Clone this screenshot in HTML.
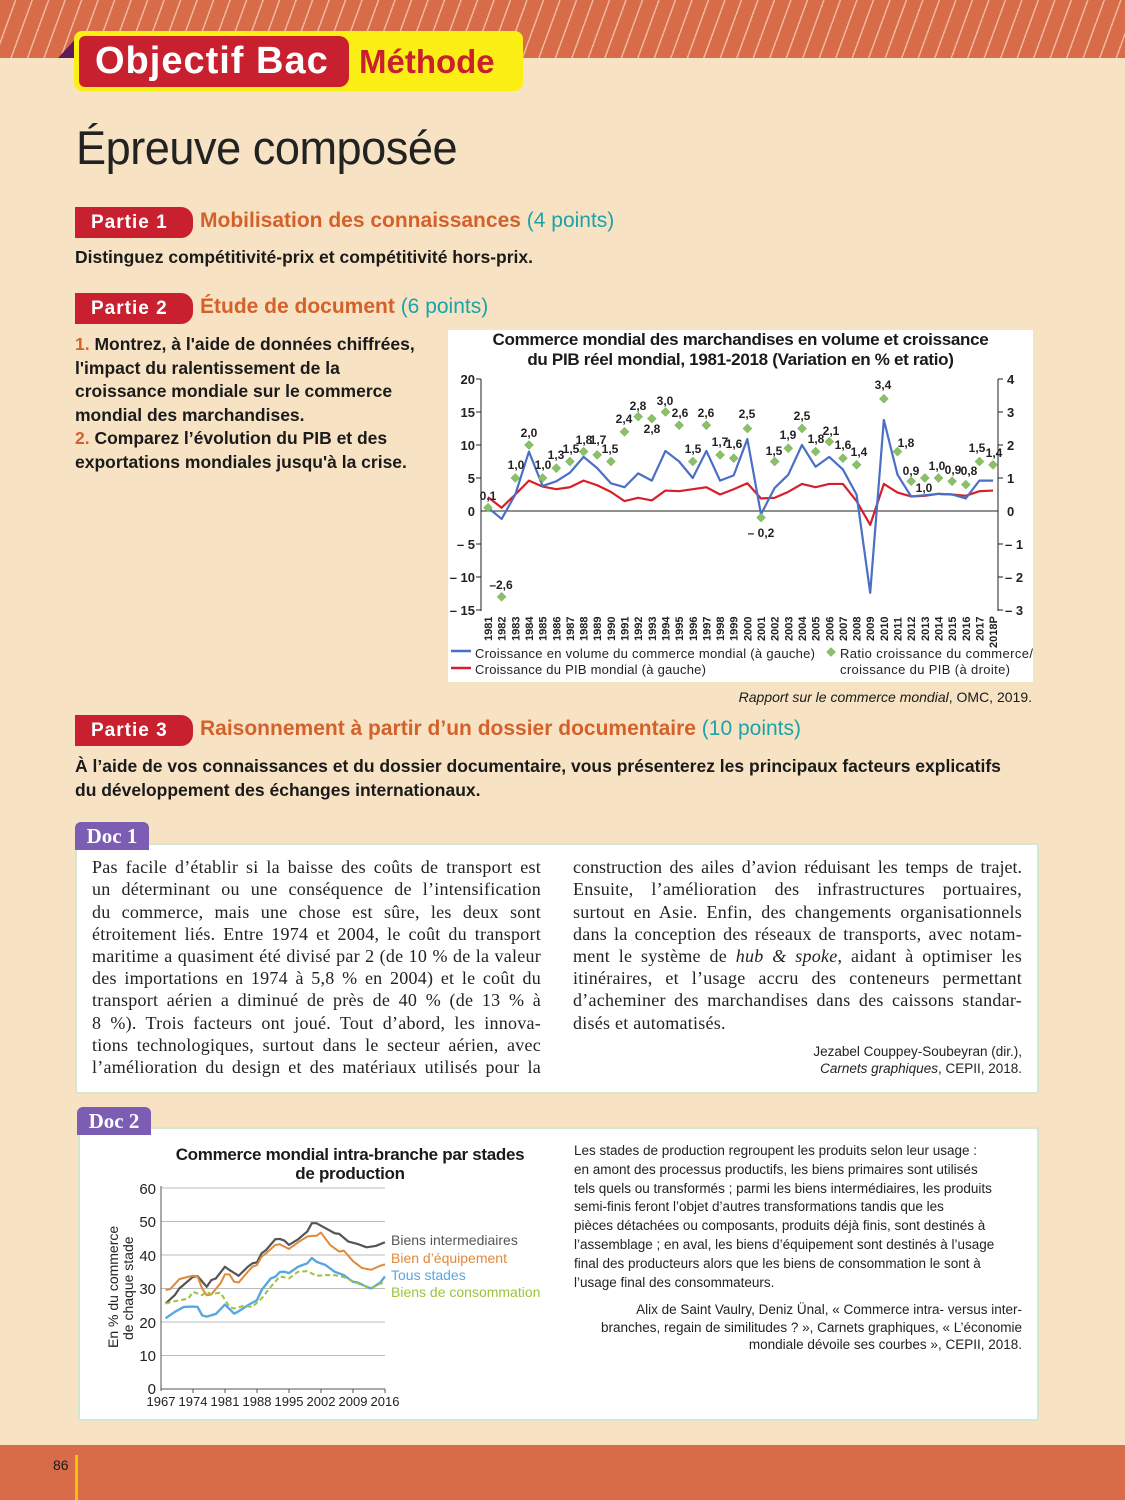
<!DOCTYPE html>
<html><head><meta charset="utf-8"><style>
*{margin:0;padding:0;box-sizing:border-box}
body{width:1125px;height:1500px;position:relative;overflow:hidden;background:#f7e3c4;font-family:"Liberation Sans",sans-serif;color:#1a1a1a}
.a{position:absolute;white-space:nowrap}
.top{left:0;top:0;width:1125px;height:58px;background:repeating-linear-gradient(110deg,#d96c48 0 14px,#f0b69c 14px 15.5px)}
.bot{left:0;top:1445px;width:1125px;height:55px;background:#d96c48}
.tag{height:31px;background:#c8202f;color:#fff;font-weight:bold;font-size:19px;line-height:31px;padding-left:16px;border-radius:0 12px 12px 0;letter-spacing:1px}
.h{font-weight:bold;font-size:21px;color:#d4602a}
.h span{color:#1ba3a8;font-weight:normal}
.b{font-weight:bold;font-size:17.5px}
.doc{background:#7b5db3;color:#fff;font-family:"Liberation Serif",serif;font-weight:bold;font-size:21px;border-radius:6px 6px 0 0;text-align:center;line-height:28px;height:28px}
.box{background:#fff;border:2px solid #d5e7cf;border-radius:3px}
.sl{position:absolute;font-family:"Liberation Serif",serif;font-size:18px;letter-spacing:0.25px;width:449px;text-align:justify;text-align-last:justify;white-space:nowrap;line-height:22px;color:#222}
.sm{font-size:13.5px;color:#222}
</style></head><body>
<div class="a top"></div>
<div class="a" style="left:58px;top:36px;width:0;height:0;border-left:20px solid transparent;border-bottom:22px solid #5e1a5a"></div>
<div class="a" style="left:74px;top:31px;width:449px;height:60px;background:#fcef16;border-radius:8px"></div>
<div class="a" style="left:79px;top:36px;width:270px;height:51px;background:#c8202f;border-radius:6px 10px 10px 6px;color:#fff;font-weight:bold;font-size:38px;line-height:51px;padding-left:16px;letter-spacing:1px">Objectif Bac</div>
<div class="a" style="left:359px;top:36px;height:51px;line-height:51px;color:#c8202f;font-weight:bold;font-size:33px">Méthode</div>
<div class="a" style="left:76px;top:120px;font-size:47px;color:#222;letter-spacing:-0.5px;transform:scaleX(0.96);transform-origin:left">Épreuve composée</div>

<div class="a tag" style="left:75px;top:207px;width:118px">Partie 1</div>
<div class="a h" style="left:200px;top:209px">Mobilisation des connaissances <span>(4 points)</span></div>
<div class="a b" style="left:75px;top:247px">Distinguez compétitivité-prix et compétitivité hors-prix.</div>

<div class="a tag" style="left:75px;top:293px;width:118px">Partie 2</div>
<div class="a h" style="left:200px;top:295px">Étude de document <span>(6 points)</span></div>
<div class="a b" style="left:75px;top:333px;line-height:23.5px"><span style="color:#d4602a">1.</span> Montrez, à l'aide de données chiffrées,<br>l'impact du ralentissement de la<br>croissance mondiale sur le commerce<br>mondial des marchandises.<br><span style="color:#d4602a">2.</span> Comparez l’évolution du PIB et des<br>exportations mondiales jusqu'à la crise.</div>

<div class="a" style="left:448px;top:330px;width:585px;height:352px;background:#fff"></div>
<div class="a" style="left:448px;top:330px;width:585px;text-align:center;font-weight:bold;font-size:17px;line-height:20px;letter-spacing:-0.3px">Commerce mondial des marchandises en volume et croissance<br>du PIB réel mondial, 1981-2018 (Variation en % et ratio)</div>
<div class="a" style="right:93px;top:689px;font-size:14px"><i>Rapport sur le commerce mondial</i>, OMC, 2019.</div>

<div class="a tag" style="left:75px;top:715px;width:118px">Partie 3</div>
<div class="a h" style="left:200px;top:717px">Raisonnement à partir d’un dossier documentaire <span>(10 points)</span></div>
<div class="a b" style="left:75px;top:755px;line-height:23.5px">À l’aide de vos connaissances et du dossier documentaire, vous présenterez les principaux facteurs explicatifs<br>du développement des échanges internationaux.</div>

<div class="a box" style="left:75px;top:843px;width:964px;height:251px"></div>
<div class="a doc" style="left:75px;top:822px;width:74px">Doc 1</div>
<div class="sl" style="left:92px;top:856px">Pas facile d’établir si la baisse des coûts de transport est</div>
<div class="sl" style="left:92px;top:878px">un déterminant ou une conséquence de l’intensification</div>
<div class="sl" style="left:92px;top:901px">du commerce, mais une chose est sûre, les deux sont</div>
<div class="sl" style="left:92px;top:923px">étroitement liés. Entre 1974 et 2004, le coût du transport</div>
<div class="sl" style="left:92px;top:945px">maritime a quasiment été divisé par 2 (de 10 % de la valeur</div>
<div class="sl" style="left:92px;top:967px">des importations en 1974 à 5,8 % en 2004) et le coût du</div>
<div class="sl" style="left:92px;top:989px">transport aérien a diminué de près de 40 % (de 13 % à</div>
<div class="sl" style="left:92px;top:1012px">8 %). Trois facteurs ont joué. Tout d’abord, les innova-</div>
<div class="sl" style="left:92px;top:1034px">tions technologiques, surtout dans le secteur aérien, avec</div>
<div class="sl" style="left:92px;top:1056px">l’amélioration du design et des matériaux utilisés pour la</div>
<div class="sl" style="left:573px;top:856px;letter-spacing:0">construction des ailes d’avion réduisant les temps de trajet.</div>
<div class="sl" style="left:573px;top:878px">Ensuite, l’amélioration des infrastructures portuaires,</div>
<div class="sl" style="left:573px;top:901px">surtout en Asie. Enfin, des changements organisationnels</div>
<div class="sl" style="left:573px;top:923px">dans la conception des réseaux de transports, avec notam-</div>
<div class="sl" style="left:573px;top:945px">ment le système de <i>hub &amp; spoke</i>, aidant à optimiser les</div>
<div class="sl" style="left:573px;top:967px">itinéraires, et l’usage accru des conteneurs permettant</div>
<div class="sl" style="left:573px;top:989px">d’acheminer des marchandises dans des caissons standar-</div>
<div class="sl" style="left:573px;top:1012px;text-align-last:left">disés et automatisés.</div>
<div class="a sm" style="right:103px;top:1043px;text-align:right;line-height:17px">Jezabel Couppey-Soubeyran (dir.),<br><i>Carnets graphiques</i>, CEPII, 2018.</div>

<div class="a box" style="left:78px;top:1127px;width:961px;height:294px"></div>
<div class="a doc" style="left:77px;top:1107px;width:74px">Doc 2</div>
<div class="a sm" style="left:574px;top:1142px;line-height:18.8px">Les stades de production regroupent les produits selon leur usage :<br>en amont des processus productifs, les biens primaires sont utilisés<br>tels quels ou transformés ; parmi les biens intermédiaires, les produits<br>semi-finis feront l’objet d’autres transformations tandis que les<br>pièces détachées ou composants, produits déjà finis, sont destinés à<br>l’assemblage ; en aval, les biens d’équipement sont destinés à l’usage<br>final des producteurs alors que les biens de consommation le sont à<br>l’usage final des consommateurs.</div>
<div class="a sm" style="right:103px;top:1301px;text-align:right;line-height:17.5px">Alix de Saint Vaulry, Deniz Ünal, « Commerce intra- versus inter-<br>branches, regain de similitudes ? », Carnets graphiques, « L’économie<br>mondiale dévoile ses courbes », CEPII, 2018.</div>
<div class="a" style="left:80px;top:1145px;width:480px;text-align:center;font-weight:bold;font-size:17px;line-height:19px;letter-spacing:-0.3px;padding-left:60px">Commerce mondial intra-branche par stades<br>de production</div>

<div class="a bot"></div>
<div class="a" style="left:53px;top:1457px;font-size:14px">86</div>
<div class="a" style="left:75px;top:1455px;width:3px;height:45px;background:#f5c400"></div>

<svg class="a" style="left:0;top:0" width="1125" height="1500" font-family="Liberation Sans, sans-serif">
<defs><path id="d" d="M0,-4.5L4.5,0L0,4.5L-4.5,0Z" fill="#8cc068" stroke="#6fa850" stroke-width="0.5"/></defs>
<g stroke="#222" stroke-width="1">
<line x1="481" y1="379" x2="481" y2="611"/><line x1="998" y1="379" x2="998" y2="611"/>
<line x1="481" y1="511" x2="998" y2="511"/>
<path d="M476,379h5M476,412h5M476,445h5M476,478h5M476,544h5M476,577h5M476,610h5M998,379h5M998,412h5M998,445h5M998,478h5M998,544h5M998,577h5M998,610h5"/>
</g>
<g font-size="13" font-weight="bold" text-anchor="end" fill="#222">
<text x="475" y="384">20</text><text x="475" y="417">15</text><text x="475" y="450">10</text><text x="475" y="483">5</text><text x="475" y="516">0</text><text x="475" y="549">– 5</text><text x="475" y="582">– 10</text><text x="475" y="615">– 15</text>
</g>
<g font-size="13" font-weight="bold" fill="#222">
<text x="1007" y="384">4</text><text x="1007" y="417">3</text><text x="1007" y="450">2</text><text x="1007" y="483">1</text><text x="1007" y="516">0</text><text x="1005" y="549">– 1</text><text x="1005" y="582">– 2</text><text x="1005" y="615">– 3</text>
</g>
<g transform="translate(488,511) scale(13.65,-6.6)" fill="none" stroke-linejoin="round">
<polyline vector-effect="non-scaling-stroke" stroke="#d5202a" stroke-width="2.2" points="0,2.1 1,0.5 2,2.5 3,4.6 4,3.7 5,3.3 6,3.6 7,4.6 8,3.9 9,2.9 10,1.5 11,2 12,1.6 13,3.1 14,3 15,3.3 16,3.6 17,2.5 18,3.3 19,4.2 20,1.9 21,2 22,2.9 23,4.1 24,3.6 25,4.1 26,4.1 27,1.5 28,-2.1 29,4.1 30,2.8 31,2.2 32,2.3 33,2.6 34,2.5 35,2.3 36,3 37,3.1"/>
<polyline vector-effect="non-scaling-stroke" stroke="#4a6fc4" stroke-width="2.2" points="0,0.5 1,-1.2 2,2.5 3,9 4,3.8 5,4.5 6,5.8 7,8.2 8,6.5 9,4.2 10,3.6 11,5.7 12,4.6 13,9.1 14,7.5 15,5 16,9.1 17,4.6 18,5.4 19,10.9 20,-0.5 21,3.5 22,5.5 23,10 24,6.7 25,8.2 26,6.3 27,2.5 28,-12.4 29,13.8 30,5.5 31,2.2 32,2.4 33,2.6 34,2.5 35,1.9 36,4.6 37,4.6"/>
</g>
<g>
<use href="#d" x="488" y="507.7"/><use href="#d" x="501.6" y="596.8"/><use href="#d" x="515.3" y="478"/><use href="#d" x="529" y="445"/><use href="#d" x="542.6" y="478"/><use href="#d" x="556.3" y="468.1"/><use href="#d" x="569.9" y="461.5"/><use href="#d" x="583.6" y="451.6"/><use href="#d" x="597.2" y="454.9"/><use href="#d" x="610.9" y="461.5"/><use href="#d" x="624.5" y="431.8"/><use href="#d" x="638.2" y="416.6"/><use href="#d" x="651.8" y="418.6"/><use href="#d" x="665.5" y="412"/><use href="#d" x="679.1" y="425.2"/><use href="#d" x="692.8" y="461.5"/><use href="#d" x="706.4" y="425.2"/><use href="#d" x="720.1" y="454.9"/><use href="#d" x="733.7" y="458.2"/><use href="#d" x="747.4" y="428.5"/><use href="#d" x="761" y="517.6"/><use href="#d" x="774.7" y="461.5"/><use href="#d" x="788.3" y="448.3"/><use href="#d" x="802" y="428.5"/><use href="#d" x="815.6" y="451.6"/><use href="#d" x="829.3" y="441.7"/><use href="#d" x="842.9" y="458.2"/><use href="#d" x="856.6" y="464.8"/><use href="#d" x="883.9" y="398.8"/><use href="#d" x="897.5" y="451.6"/><use href="#d" x="911.2" y="481.3"/><use href="#d" x="924.8" y="478"/><use href="#d" x="938.5" y="478"/><use href="#d" x="952.1" y="481.3"/><use href="#d" x="965.8" y="484.6"/><use href="#d" x="979.4" y="461.5"/><use href="#d" x="993" y="464.8"/>
</g>
<g font-size="12" font-weight="bold" fill="#222" text-anchor="middle">
<text x="488" y="500">0,1</text><text x="501" y="589">–2,6</text><text x="516" y="469">1,0</text><text x="529" y="437">2,0</text><text x="543" y="469">1,0</text><text x="556" y="459">1,3</text><text x="571" y="453">1,5</text><text x="584" y="444">1,8</text><text x="598" y="444">1,7</text><text x="610" y="453">1,5</text><text x="624" y="423">2,4</text><text x="638" y="410">2,8</text><text x="652" y="433">2,8</text><text x="665" y="405">3,0</text><text x="680" y="417">2,6</text><text x="693" y="453">1,5</text><text x="706" y="417">2,6</text><text x="720" y="446">1,7</text><text x="734" y="448">1,6</text><text x="747" y="418">2,5</text><text x="761" y="537">– 0,2</text><text x="774" y="455">1,5</text><text x="788" y="439">1,9</text><text x="802" y="420">2,5</text><text x="816" y="443">1,8</text><text x="831" y="435">2,1</text><text x="843" y="449">1,6</text><text x="859" y="456">1,4</text><text x="883" y="389">3,4</text><text x="906" y="447">1,8</text><text x="911" y="475">0,9</text><text x="924" y="492">1,0</text><text x="937" y="470">1,0</text><text x="953" y="474">0,9</text><text x="969" y="475">0,8</text><text x="977" y="452">1,5</text><text x="994" y="457">1,4</text>
</g>
<g font-size="11" font-weight="bold" fill="#222">
<text transform="translate(492,641) rotate(-90)">1981</text><text transform="translate(505.6,641) rotate(-90)">1982</text><text transform="translate(519.3,641) rotate(-90)">1983</text><text transform="translate(533,641) rotate(-90)">1984</text><text transform="translate(546.6,641) rotate(-90)">1985</text><text transform="translate(560.3,641) rotate(-90)">1986</text><text transform="translate(573.9,641) rotate(-90)">1987</text><text transform="translate(587.6,641) rotate(-90)">1988</text><text transform="translate(601.2,641) rotate(-90)">1989</text><text transform="translate(614.9,641) rotate(-90)">1990</text><text transform="translate(628.5,641) rotate(-90)">1991</text><text transform="translate(642.2,641) rotate(-90)">1992</text><text transform="translate(655.8,641) rotate(-90)">1993</text><text transform="translate(669.5,641) rotate(-90)">1994</text><text transform="translate(683.1,641) rotate(-90)">1995</text><text transform="translate(696.8,641) rotate(-90)">1996</text><text transform="translate(710.4,641) rotate(-90)">1997</text><text transform="translate(724.1,641) rotate(-90)">1998</text><text transform="translate(737.7,641) rotate(-90)">1999</text><text transform="translate(751.4,641) rotate(-90)">2000</text><text transform="translate(765,641) rotate(-90)">2001</text><text transform="translate(778.7,641) rotate(-90)">2002</text><text transform="translate(792.3,641) rotate(-90)">2003</text><text transform="translate(806,641) rotate(-90)">2004</text><text transform="translate(819.6,641) rotate(-90)">2005</text><text transform="translate(833.3,641) rotate(-90)">2006</text><text transform="translate(846.9,641) rotate(-90)">2007</text><text transform="translate(860.6,641) rotate(-90)">2008</text><text transform="translate(874.2,641) rotate(-90)">2009</text><text transform="translate(887.9,641) rotate(-90)">2010</text><text transform="translate(901.5,641) rotate(-90)">2011</text><text transform="translate(915.2,641) rotate(-90)">2012</text><text transform="translate(928.8,641) rotate(-90)">2013</text><text transform="translate(942.5,641) rotate(-90)">2014</text><text transform="translate(956.1,641) rotate(-90)">2015</text><text transform="translate(969.8,641) rotate(-90)">2016</text><text transform="translate(983.4,641) rotate(-90)">2017</text><text transform="translate(997,648) rotate(-90)">2018P</text>
</g>
<line x1="451" y1="651" x2="471" y2="651" stroke="#4a6fc4" stroke-width="2.5"/>
<line x1="451" y1="668" x2="471" y2="668" stroke="#d5202a" stroke-width="2.5"/>
<use href="#d" x="831" y="652"/>
<g font-size="13" fill="#222">
<text x="475" y="658" textLength="340">Croissance en volume du commerce mondial (à gauche)</text>
<text x="475" y="674" textLength="231">Croissance du PIB mondial (à gauche)</text>
<text x="840" y="658" textLength="193">Ratio croissance du commerce/</text>
<text x="840" y="674" textLength="170">croissance du PIB (à droite)</text>
</g>

<g stroke="#bbb" stroke-width="1">
<line x1="161" y1="1188" x2="385" y2="1188"/><line x1="161" y1="1221.5" x2="385" y2="1221.5"/><line x1="161" y1="1255" x2="385" y2="1255"/><line x1="161" y1="1288.5" x2="385" y2="1288.5"/><line x1="161" y1="1322" x2="385" y2="1322"/><line x1="161" y1="1355.5" x2="385" y2="1355.5"/>
</g>
<g stroke="#555" stroke-width="1"><line x1="161" y1="1186" x2="161" y2="1391"/><line x1="161" y1="1389" x2="385" y2="1389"/>
<path d="M193,1389v4M225,1389v4M257,1389v4M289,1389v4M321,1389v4M353,1389v4M385,1389v4"/></g>
<g font-size="15" fill="#222" text-anchor="end">
<text x="156" y="1194">60</text><text x="156" y="1227">50</text><text x="156" y="1261">40</text><text x="156" y="1294">30</text><text x="156" y="1328">20</text><text x="156" y="1361">10</text><text x="156" y="1394">0</text>
</g>
<g font-size="13" fill="#222" text-anchor="middle">
<text x="161" y="1406">1967</text><text x="193" y="1406">1974</text><text x="225" y="1406">1981</text><text x="257" y="1406">1988</text><text x="289" y="1406">1995</text><text x="321" y="1406">2002</text><text x="353" y="1406">2009</text><text x="385" y="1406">2016</text>
</g>
<text transform="translate(118,1348) rotate(-90)" font-size="14" fill="#222">En % du commerce</text>
<text transform="translate(133,1340) rotate(-90)" font-size="14" fill="#222">de chaque stade</text>
<g transform="translate(161,1389) scale(4.57,-3.35)" fill="none" stroke-linejoin="round">
<polyline vector-effect="non-scaling-stroke" stroke="#555" stroke-width="2.2" points="1,25.5 3,28 4,30 7,33.5 8,33.7 10,30.5 11,32.5 12,33 14,36.5 15,35.5 17,33.8 19,36.5 20,37.5 21,37.8 22,40.5 23,41.5 25,44.7 26,44.8 27,44.3 28,43 30,44.7 32,47 33,49.5 34,49.5 36,48 38,46.5 39,46.3 41,44 43,43.3 45,42.3 47,42.7 49,43.8"/>
<polyline vector-effect="non-scaling-stroke" stroke="#e0893a" stroke-width="2" points="1,29.6 2,29.8 4,32.8 6,33.5 7,33.8 8,33.6 9,30 10,28 11,28.2 13,31.5 14,34.2 15,34.2 16,32 17,31.8 19,35 20,36.5 21,37 22,39.5 23,40.5 25,43 26,43.2 28,41.8 30,43.8 32,45.5 33,45.7 34,45.7 35,46.7 37,43 39,41 40,41.3 42,38.2 44,36.1 46,35.6 48,36.8 49,37.2"/>
<polyline vector-effect="non-scaling-stroke" stroke="#5aa6e0" stroke-width="2.4" points="1,21.1 3,23 5,24.5 7,24.6 8,24.5 9,22 10,21.6 12,22.4 14,25.2 16,22.5 17,23.2 19,25 21,26.5 22,29.5 24,33 25,33.5 26,34.9 27,35 28,34.6 30,36.5 31,37 32,37.5 33,39.1 34,38 36,37 38,35 40,34 42,32 43,31.8 45,30.5 46,30 48,31.8 49,33.6"/>
<polyline vector-effect="non-scaling-stroke" stroke="#9cc43a" stroke-width="2" stroke-dasharray="5,3" points="1,25.5 3,26.2 6,27 7,29 9,28 10,29 11,28.3 13,28.8 15,24.5 16,24 18,24.8 20,24.5 22,27 24,30.5 25,32 26,33.6 28,33 30,35 32,35.2 34,33.8 36,34 38,34 40,33.4 42,32.2 44,31 46,30.2 49,32"/>
</g>
<g font-size="14">
<text x="391" y="1245" fill="#555">Biens intermediaires</text>
<text x="391" y="1263" fill="#e0893a">Bien d’équipement</text>
<text x="391" y="1280" fill="#5aa6e0">Tous stades</text>
<text x="391" y="1297" fill="#9cc43a">Biens de consommation</text>
</g>
</svg>
</body></html>
